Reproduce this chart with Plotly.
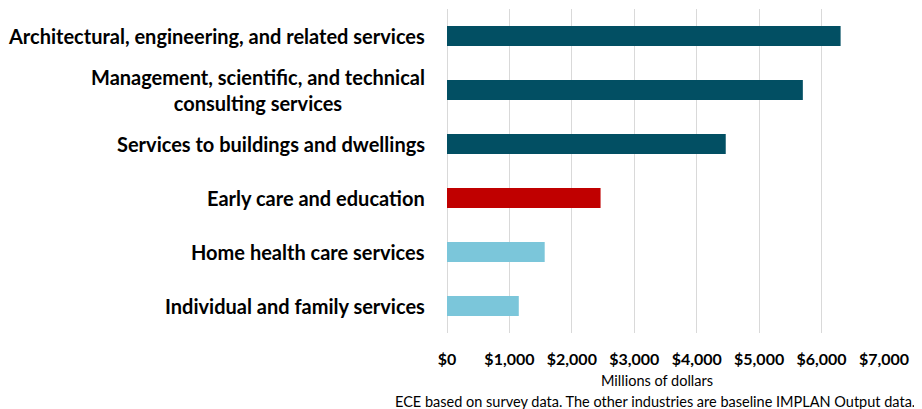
import plotly.graph_objects as go

# industries, top to bottom as in the picture
industries = [
    "Architectural, engineering, and related services",
    "Management, scientific, and technical<br>consulting services",
    "Services to buildings and dwellings",
    "Early care and education",
    "Home health care services",
    "Individual and family services",
]
output_millions = [6305, 5700, 4465, 2460, 1565, 1150]
bar_colors = ["#024F63", "#024F63", "#024F63", "#C00000", "#7BC6DA", "#7BC6DA"]
tick_vals = [0, 1000, 2000, 3000, 4000, 5000, 6000, 7000]
tick_text = ["$0", "$1,000", "$2,000", "$3,000", "$4,000", "$5,000", "$6,000", "$7,000"]

LABEL_FONT = "Lato"

fig = go.Figure()
fig.add_trace(go.Bar(
    x=output_millions, y=industries, orientation="h",
    marker=dict(color=bar_colors, line=dict(width=0)),
    width=0.37, hoverinfo="x+y",
))

# category labels as annotations so the wrapped one can be centred line by line
for name in industries:
    fig.add_annotation(
        x=0, xref="paper", y=name, yref="y", text=name,
        showarrow=False, xanchor="right", align="center", xshift=-20,
        font=dict(family=LABEL_FONT, size=20, color="#000000", weight="bold"),
    )

fig.add_annotation(
    x=0.5, xref="paper", y=0, yref="paper", yshift=-47, xshift=-9,
    text="Millions of dollars", showarrow=False, xanchor="center", yanchor="middle",
    font=dict(family=LABEL_FONT, size=14.5, color="#000000"),
)
fig.add_annotation(
    x=1, xref="paper", y=0, yref="paper", yshift=-68, xshift=33,
    text="ECE based on survey data. The other industries are baseline IMPLAN Output data.",
    showarrow=False, xanchor="right", yanchor="middle",
    font=dict(family=LABEL_FONT, size=14.5, color="#000000"),
)

fig.update_yaxes(
    type="category", autorange="reversed", showticklabels=False,
    showgrid=False, zeroline=False, showline=False, automargin=False,
)
fig.update_xaxes(
    range=[0, 7000], tickvals=tick_vals, ticktext=tick_text,
    showgrid=True, gridcolor="#D9D9D9", gridwidth=1,
    zeroline=True, zerolinecolor="#D9D9D9", zerolinewidth=1,
    showline=False, ticks="", automargin=False, ticklabelstandoff=15,
    tickfont=dict(family=LABEL_FONT, size=16, color="#000000", weight="bold"),
)
# the page adds an 8px body margin, so the figure is sized to the visible area
fig.update_layout(
    width=914, height=401,
    margin=dict(l=439, r=38, t=1, b=76),
    plot_bgcolor="white", paper_bgcolor="white",
    showlegend=False, bargap=0.63,
)
fig.write_html("out.html")
